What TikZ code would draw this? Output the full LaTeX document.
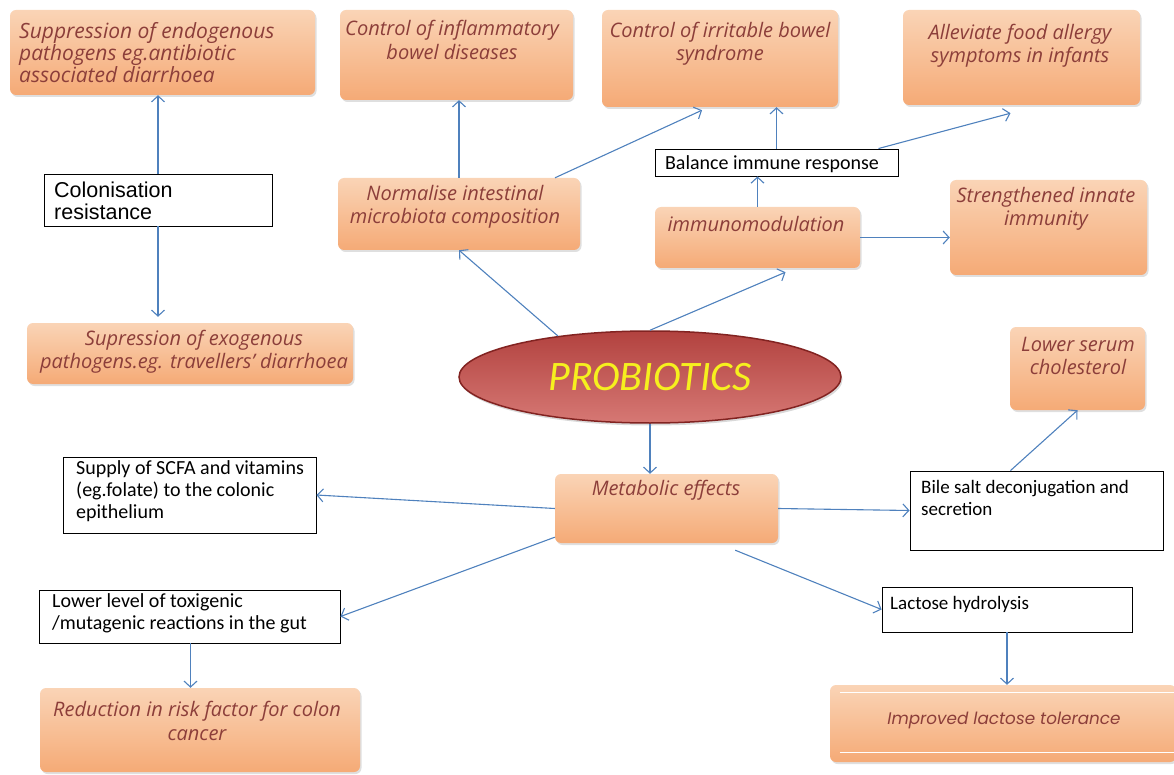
\documentclass[tikz,border=0pt]{standalone}
\usepackage{fontspec}
\setmainfont{Carlito}
\newfontfamily\arialf{Liberation Sans}
\newfontfamily\osf{Open Sans}
\newfontfamily\popf{Poppins}
\usetikzlibrary{arrows.meta,shapes.geometric,shadows}
\definecolor{arr}{RGB}{79,129,189}
\definecolor{itc}{RGB}{140,62,58}
\definecolor{orL}{RGB}{253,236,222}
\definecolor{orM}{RGB}{250,212,182}
\definecolor{orD}{RGB}{245,170,118}
\definecolor{rdD}{RGB}{130,35,33}
\definecolor{rdT}{RGB}{178,66,63}
\definecolor{rdM}{RGB}{190,72,69}
\definecolor{rdL}{RGB}{214,120,116}
\definecolor{ylw}{RGB}{246,240,30}
\tikzset{
  obox/.style={rounded corners=6pt, top color=orM, middle color=orL, bottom color=orD, draw=none, inner sep=0pt,
    drop shadow={opacity=0.25, shadow xshift=1.5pt, shadow yshift=-2pt}},
  otext/.style={text=itc, font=\osf\itshape\fontsize{20}{23.5}\selectfont, inner sep=0pt, align=center},
  wbox/.style={draw=black, line width=0.9pt, fill=white, inner sep=0pt},
  wtext/.style={font=\fontsize{20}{22}\selectfont, inner sep=0pt, align=left, anchor=west},
  conn/.style={draw=arr, line width=1.1pt, -{Straight Barb[length=6pt,width=13pt]}},
}
\newcommand\OB[5]{\node[obox, minimum width={(#4-#2)*1pt}, minimum height={(#5-#3)*1pt}] (#1) at ({(#2+#4)/2},{(#3+#5)/2}) {};}
\newcommand\WB[5]{\node[wbox, minimum width={(#4-#2)*1pt}, minimum height={(#5-#3)*1pt}] (#1) at ({(#2+#4)/2},{(#3+#5)/2}) {};}
\begin{document}
\begin{tikzpicture}[x=1pt,y=-1pt]
\useasboundingbox (0,0) rectangle (1174,775);
% orange boxes
\OB{sup1}{10}{10}{315}{95}
\OB{infl}{340}{10}{573}{100}
\OB{irr}{602}{10}{838}{107}
\OB{all}{903}{10}{1140}{105}
\OB{norm}{338}{178}{580}{250}
\OB{immu}{655}{207}{860}{268}
\OB{str}{950}{180}{1147}{275}
\OB{sup2}{27}{323}{353}{384}
\OB{chol}{1010}{327}{1145}{410}
\OB{meta}{555}{474}{778}{543}
\OB{red}{40}{688}{360}{772}
\OB{impr}{830}{685}{1176}{762}
\draw[white, line width=1pt] ([xshift=10,yshift=-8]impr.north west) coordinate (i1) -- ([yshift=-8]impr.north east);
\draw[white, line width=1pt] ([xshift=10,yshift=10]impr.south west) coordinate (i2) -- ([yshift=10]impr.south east);
% orange texts
\node[otext, anchor=west, align=left, font=\osf\itshape\fontsize{21}{22}\selectfont] (t1) at (19,53) {Suppression of endogenous\\pathogens eg.antibiotic\\associated diarrhoea};
\node[otext] (t2) at (452,40) {Control of inflammatory\\bowel diseases};
\node[otext] (t3) at (720,44) {Control of irritable bowel\\syndrome};
\node[otext] (t4) at (1020,46) {Alleviate food allergy\\symptoms in infants};
\node[otext] (t5) at (455,207) {Normalise intestinal\\microbiota composition};
\node[otext] (t6) at (756,224) {immunomodulation};
\node[otext] (t7) at (1046,209) {Strengthened innate\\immunity};
\node[otext] (t8) at (194,352) {Supression of exogenous\\pathogens.eg. travellers’ diarrhoea};
\node[otext] (t9) at (1078,356) {Lower serum\\cholesterol};
\node[otext] (t10) at (666,490) {Metabolic effects};
\node[otext] (t11) at (197,721) {Reduction in risk factor for colon\\cancer};
\node[otext, font=\popf\itshape\fontsize{16.8}{22}\selectfont] (t12) at (1004,720) {Improved lactose tolerance};
% white boxes
\WB{colo}{44}{174}{272}{226}
\WB{bal}{655}{149}{898}{176}
\WB{scfa}{63}{457}{316}{533}
\WB{bile}{910}{471}{1163}{550}
\WB{low}{39}{590}{340}{643}
\WB{lac}{882}{587}{1132}{632}
\node[wtext, font=\arialf\fontsize{21.5}{22}\selectfont] (w1) at (54,201) {Colonisation\\resistance};
\node[wtext, anchor=center] (w2) at (772,164) {Balance immune response};
\node[wtext] (w3) at (76,491) {Supply of SCFA and vitamins\\(eg.folate) to the colonic\\epithelium};
\node[wtext, font=\fontsize{19}{22}\selectfont] (w4) at (921,498) {Bile salt deconjugation and\\secretion};
\node[wtext] (w5) at (52,613) {Lower level of toxigenic\\/mutagenic reactions in the gut};
\node[wtext, font=\fontsize{19}{22}\selectfont] (w6) at (890,604) {Lactose hydrolysis};
% ellipse
\node[ellipse, minimum width=382pt, minimum height=92pt, draw=rdD, line width=1.5pt,
  top color=rdT, middle color=rdM, bottom color=rdL,
  drop shadow={opacity=0.3, shadow xshift=1.5pt, shadow yshift=-2.5pt},
  font=\itshape\fontsize{42}{46}\selectfont, text=ylw] (prob) at (650,377) {PROBIOTICS};
% connectors
\draw[conn] (colo.north) -- (colo.north |- sup1.south);
\draw[conn] (colo.south) -- ([yshift=6]colo.south |- sup2.north);
\draw[conn] (prob.156) -- (norm.south);
\draw[conn] (norm.north) -- (norm.north |- infl.south);
\draw[conn] ([xshift=96]norm.north) -- ([xshift=-18,yshift=-3]irr.south);
\draw[conn] (prob.north) -- ([xshift=28,yshift=-4]immu.south);
\draw[conn] (immu.north) -- (immu.north |- bal.south);
\draw[conn] (bal.north) -- (bal.north |- irr.south);
\draw[conn] ([xshift=-20]bal.north east) -- ([xshift=-11,yshift=-8]all.south);
\draw[conn] (immu.east) -- (immu.east -| str.west);
\draw[conn] (prob.south) -- (prob.south |- meta.north);
\draw[conn] (meta.west) -- (scfa.east);
\draw[conn] (meta.east) -- (bile.west);
\draw[conn] ([xshift=-26]bile.north) -- (chol.south);
\draw[conn] ([yshift=6]meta.south west) -- (low.east);
\draw[conn] ([xshift=-43,yshift=-7]meta.south east) -- (lac.west);
\draw[conn] ([xshift=1]low.south) -- ([xshift=1]low.south |- red.north);
\draw[conn] (lac.south) -- (lac.south |- impr.north);
\end{tikzpicture}
\end{document}
